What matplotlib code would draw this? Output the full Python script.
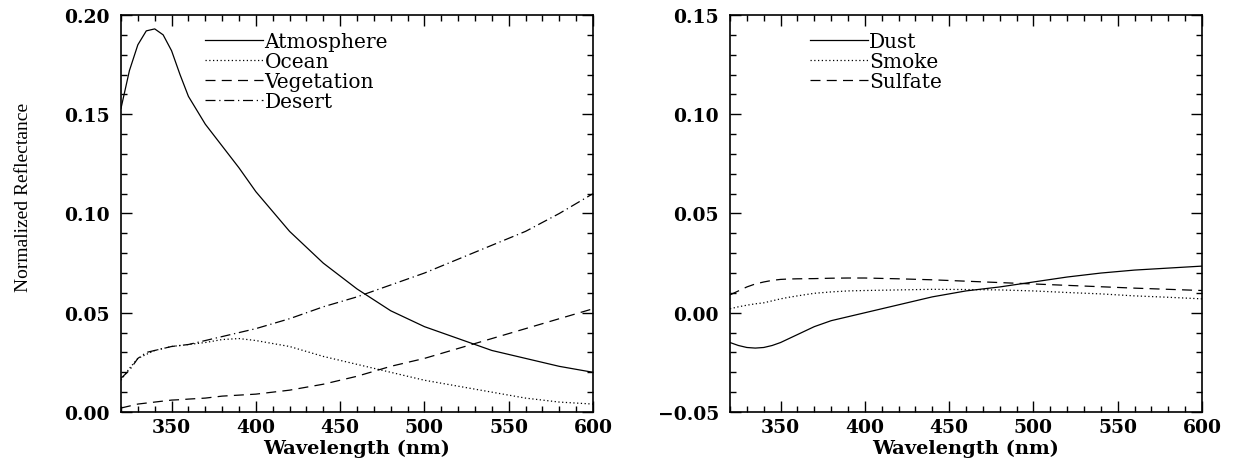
import numpy as np
import matplotlib
matplotlib.use("Agg")
import matplotlib.pyplot as plt
from matplotlib.ticker import MultipleLocator, FuncFormatter

plt.rcParams["font.family"] = "DejaVu Serif"

# comprimento de onda (nm)
wl = [320, 325, 330, 335, 340, 345, 350, 355, 360, 370, 380, 390, 400,
      420, 440, 460, 480, 500, 520, 540, 560, 580, 600]

# painel esquerdo
atmosphere = [0.153, 0.172, 0.185, 0.192, 0.193, 0.190, 0.182, 0.170, 0.159, 0.145, 0.134, 0.123, 0.111,
              0.091, 0.075, 0.062, 0.051, 0.043, 0.037, 0.031, 0.027, 0.023, 0.020]
ocean = [0.016, 0.022, 0.027, 0.029, 0.031, 0.032, 0.033, 0.0335, 0.034, 0.035, 0.0365, 0.037, 0.036,
         0.033, 0.028, 0.024, 0.020, 0.016, 0.013, 0.010, 0.007, 0.005, 0.004]
vegetation = [0.002, 0.003, 0.004, 0.0045, 0.005, 0.0055, 0.006, 0.0062, 0.0065, 0.007, 0.008, 0.0085, 0.009,
              0.011, 0.014, 0.018, 0.023, 0.027, 0.032, 0.037, 0.042, 0.047, 0.052]
desert = [0.017, 0.021, 0.027, 0.030, 0.031, 0.032, 0.033, 0.0335, 0.034, 0.036, 0.038, 0.040, 0.042,
          0.047, 0.053, 0.058, 0.064, 0.070, 0.077, 0.084, 0.091, 0.100, 0.110]

# painel direito
dust = [-0.015, -0.0165, -0.0175, -0.0178, -0.0175, -0.0165, -0.015, -0.013, -0.011, -0.007, -0.004, -0.002, 0.000,
        0.004, 0.008, 0.011, 0.013, 0.0155, 0.018, 0.020, 0.0215, 0.0225, 0.0235]
smoke = [0.002, 0.003, 0.0038, 0.0045, 0.005, 0.006, 0.007, 0.0078, 0.0085, 0.0098, 0.0105, 0.011, 0.0112,
         0.0115, 0.0118, 0.0117, 0.0115, 0.011, 0.0102, 0.0095, 0.0085, 0.0078, 0.007]
sulfate = [0.009, 0.011, 0.013, 0.0145, 0.0155, 0.0163, 0.0168, 0.017, 0.0171, 0.0172, 0.0174, 0.0175, 0.0175,
           0.0171, 0.0166, 0.0159, 0.0152, 0.0145, 0.0138, 0.0131, 0.0124, 0.0118, 0.0112]

fig = plt.figure(figsize=(12.36, 4.64), dpi=100)
ax1 = fig.add_axes([121/1236, 1-413/464, 472/1236, 397/464])
ax2 = fig.add_axes([730/1236, 1-413/464, 472/1236, 397/464])

estilos = {"solid": "-", "dot": (0, (1, 2)), "dash": (0, (8, 5)), "dashdot": (0, (8, 3, 1, 3))}

ax1.plot(wl, atmosphere, color="black", lw=0.9, ls=estilos["solid"], label="Atmosphere")
ax1.plot(wl, ocean, color="black", lw=0.9, ls=estilos["dot"], label="Ocean")
ax1.plot(wl, vegetation, color="black", lw=0.9, ls=estilos["dash"], label="Vegetation")
ax1.plot(wl, desert, color="black", lw=0.9, ls=estilos["dashdot"], label="Desert")

ax2.plot(wl, dust, color="black", lw=0.9, ls=estilos["solid"], label="Dust")
ax2.plot(wl, smoke, color="black", lw=0.9, ls=estilos["dot"], label="Smoke")
ax2.plot(wl, sulfate, color="black", lw=0.9, ls=estilos["dash"], label="Sulfate")

fmt = FuncFormatter(lambda v, p: ("%.2f" % v).replace("-", "\u2212"))

for ax, ylim in [(ax1, (0, 0.20)), (ax2, (-0.05, 0.15))]:
    ax.set_xlim(320, 600)
    ax.set_ylim(*ylim)
    ax.xaxis.set_major_locator(MultipleLocator(50))
    ax.xaxis.set_minor_locator(MultipleLocator(10))
    ax.yaxis.set_major_locator(MultipleLocator(0.05))
    ax.yaxis.set_minor_locator(MultipleLocator(0.01))
    ax.yaxis.set_major_formatter(fmt)
    ax.tick_params(which="both", direction="in", top=True, right=True, width=1.0)
    ax.tick_params(which="major", length=8, labelsize=13.5, pad=8)
    ax.tick_params(axis="x", which="major", pad=4)
    ax.tick_params(which="minor", length=4)
    for lab in ax.get_xticklabels() + ax.get_yticklabels():
        lab.set_fontweight("bold")
    for s in ax.spines.values():
        s.set_linewidth(1.2)
    ax.set_xlabel("Wavelength (nm)", fontsize=14, fontweight="bold", labelpad=2.5)

ax1.set_ylabel("Normalized Reflectance", fontsize=14, family="Liberation Serif")
ax1.yaxis.set_label_coords(-0.188, 0.544)

for ax, x0 in [(ax1, 0.178), (ax2, 0.169)]:
    ax.legend(loc="upper left", bbox_to_anchor=(x0, 0.956), frameon=False,
              borderpad=0, borderaxespad=0, handlelength=2.9, handletextpad=0.05,
              labelspacing=0.05, prop={"size": 14.5, "family": "DejaVu Serif"})

fig.savefig("out.png", dpi=100)
